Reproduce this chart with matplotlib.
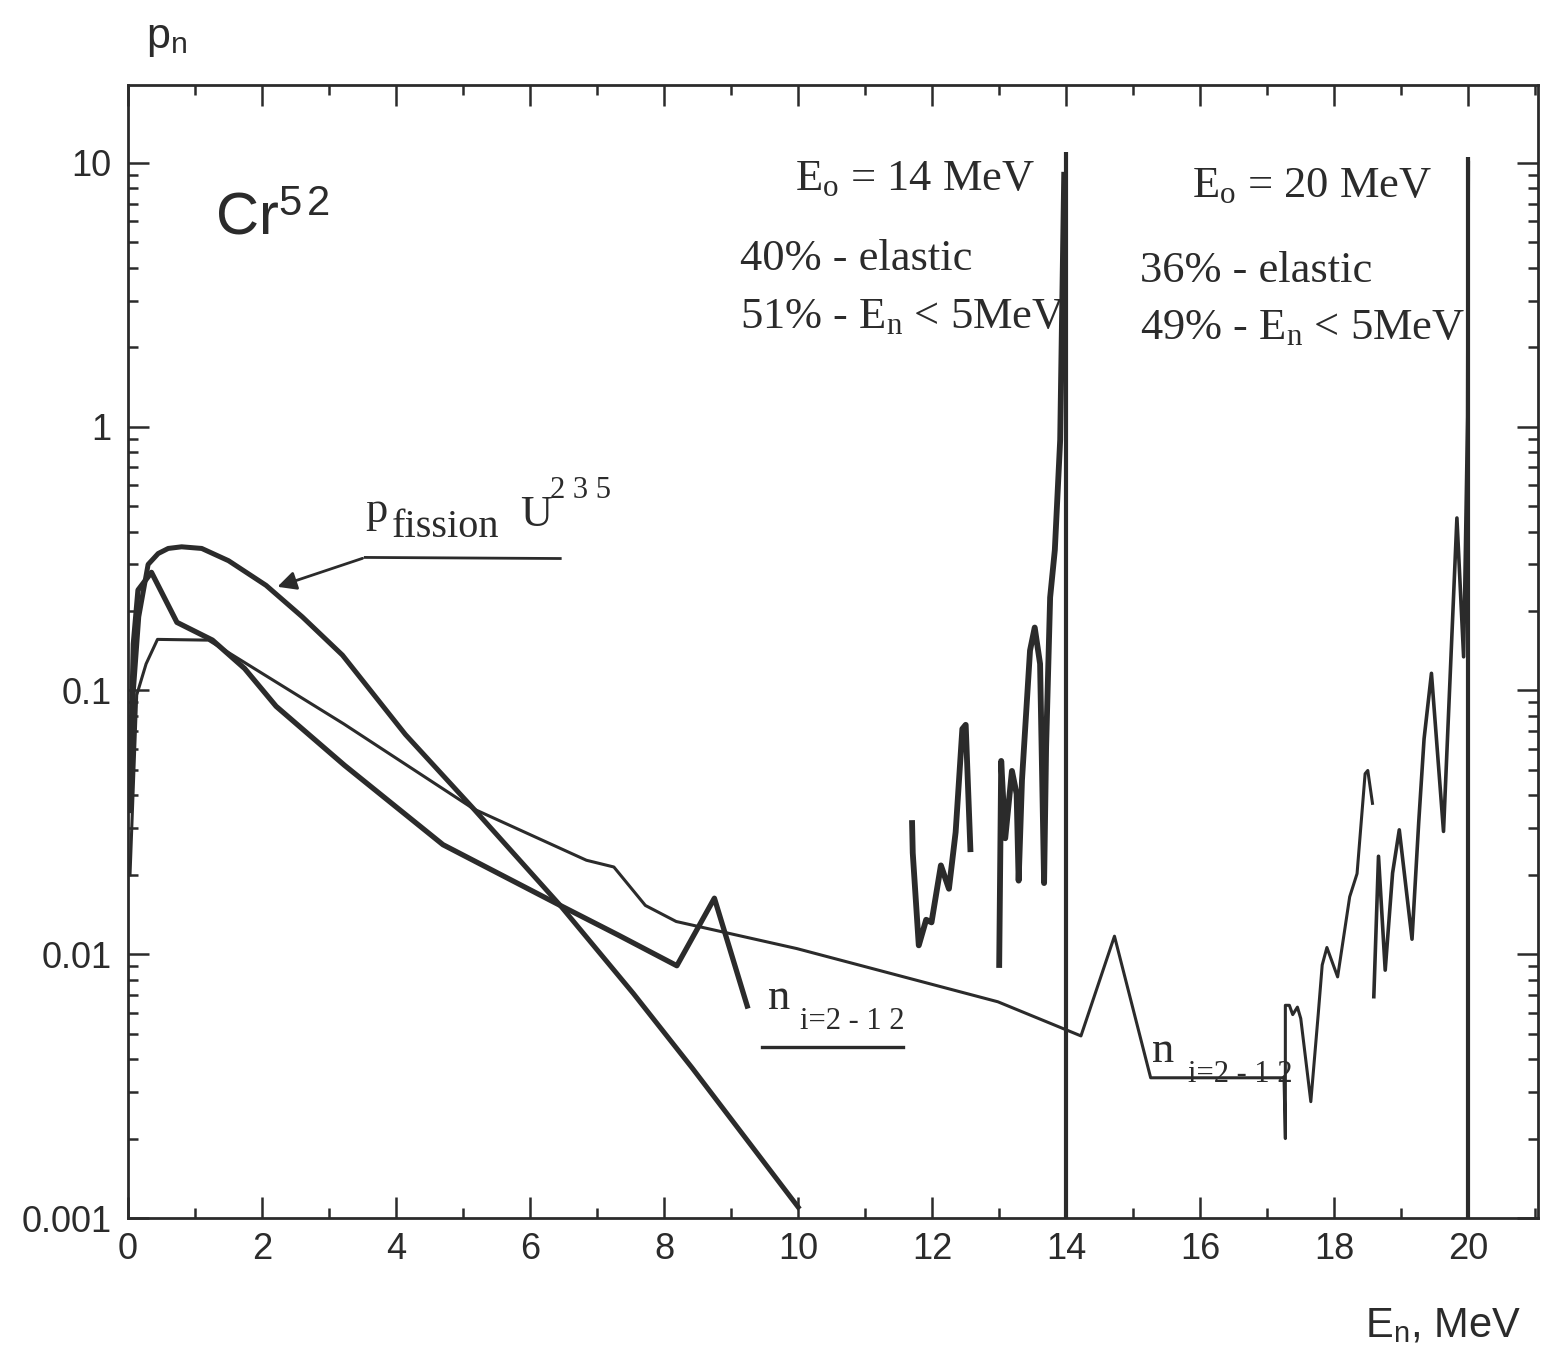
import numpy as np
import matplotlib
matplotlib.use("Agg")
import matplotlib.pyplot as plt
from matplotlib.ticker import MultipleLocator, LogLocator, NullFormatter

# 数据: 能量 E (MeV) 与 p_n, 从扫描图读出
# U235 裂变谱
fis_e = [0.03, 0.08, 0.16, 0.30, 0.45, 0.60, 0.80, 1.10, 1.50, 2.06, 2.60, 3.20,
         4.14, 5.16, 6.45, 7.54, 8.42, 10.0]
fis_p = [0.035, 0.10, 0.19, 0.30, 0.33, 0.345, 0.35, 0.345, 0.31, 0.25, 0.19, 0.136,
         0.068, 0.0355, 0.0153, 0.0071, 0.0037, 0.0011]

# E0 = 14 MeV, n i=2-12 (粗线)
n14_e = [0.03, 0.08, 0.15, 0.35, 0.73, 1.26, 1.74, 2.21, 3.23, 4.70, 6.45, 7.32, 8.19, 8.75, 9.24]
n14_p = [0.04, 0.15, 0.24, 0.28, 0.181, 0.155, 0.121, 0.087, 0.052, 0.026, 0.0153, 0.0118,
         0.00904, 0.0163, 0.00636]

# E0 = 14 MeV, 高能部分
s14a_e = [11.70, 11.71, 11.80, 11.91, 11.99, 12.13, 12.25, 12.35, 12.45, 12.50, 12.57]
s14a_p = [0.0314, 0.0242, 0.0108, 0.0135, 0.0132, 0.0217, 0.0177, 0.029, 0.0714, 0.074, 0.025]
s14b_e = [13.00, 13.03, 13.09, 13.19, 13.26, 13.29, 13.34, 13.46, 13.53, 13.61, 13.67,
          13.70, 13.76, 13.83, 13.91, 13.97]
s14b_p = [0.0091, 0.054, 0.0275, 0.0495, 0.0405, 0.019, 0.0457, 0.1416, 0.173, 0.126, 0.0186,
          0.061, 0.225, 0.34, 0.89, 9.0]

# E0 = 20 MeV (细线)
n20_e = [0.03, 0.13, 0.27, 0.44, 1.20, 3.22, 5.16, 6.84, 7.25, 7.72, 8.18, 9.98, 12.98,
         14.22, 14.72, 15.26, 17.25, 17.27, 17.27,
         17.33, 17.38, 17.45, 17.50, 17.65, 17.76, 17.82, 17.89, 18.05, 18.23, 18.34,
         18.46, 18.50, 18.57]
n20_p = [0.02, 0.096, 0.126, 0.156, 0.155, 0.0746, 0.0355, 0.0227, 0.0214, 0.0153, 0.0133,
         0.0105, 0.0066, 0.0049, 0.0117, 0.0034, 0.0034, 0.0020, 0.0064,
         0.0064, 0.0059, 0.0063, 0.0057, 0.00276, 0.0059, 0.0091, 0.0106, 0.0082, 0.0165,
         0.0202, 0.0483, 0.0497, 0.0373]
s20_e = [18.59, 18.66, 18.76, 18.87, 18.97, 19.16, 19.26, 19.34, 19.45, 19.63, 19.83,
         19.93, 19.99, 20.0]
s20_p = [0.0069, 0.0235, 0.0087, 0.0203, 0.0296, 0.0114, 0.0316, 0.0655, 0.116, 0.0292,
         0.45, 0.134, 1.09, 10.0]

# 弹性散射峰
elastic_e = [14.0, 20.0]
elastic_top = [11.0, 10.5]

x_ticks = [0, 2, 4, 6, 8, 10, 12, 14, 16, 18, 20]
y_ticks = [0.001, 0.01, 0.1, 1, 10]
y_ticklabels = ["0.001", "0.01", "0.1", "1", "10"]

plt.rcParams["font.family"] = ["Liberation Sans", "DejaVu Sans"]
plt.rcParams["mathtext.fontset"] = "custom"
plt.rcParams["mathtext.rm"] = "Liberation Serif"
plt.rcParams["mathtext.it"] = "Liberation Serif:italic"
plt.rcParams["mathtext.sf"] = "Liberation Sans"

ink = "#2b2b2b"
serif = ["Liberation Serif", "DejaVu Serif"]

fig = plt.figure(figsize=(15.44, 13.54), dpi=100)
ax = fig.add_axes([128 / 1544, 1 - 1218 / 1354, (1538 - 128) / 1544, (1218 - 85) / 1354])

ax.plot(fis_e, fis_p, color=ink, lw=3.6, solid_joinstyle="round")
ax.plot(n14_e, n14_p, color=ink, lw=3.8, solid_joinstyle="round")
ax.plot(s14a_e, s14a_p, color=ink, lw=4.2, solid_joinstyle="round")
ax.plot(s14b_e, s14b_p, color=ink, lw=4.2, solid_joinstyle="round")
ax.plot(n20_e, n20_p, color=ink, lw=2.2, solid_joinstyle="round")
ax.plot(s20_e, s20_p, color=ink, lw=2.6, solid_joinstyle="round")
ax.vlines(elastic_e, 0.001, elastic_top, color=ink, lw=3.0)

ax.set_yscale("log")
ax.set_xlim(0, 21.04)
ax.set_ylim(0.001, 19.7)

ax.set_xticks(x_ticks, [str(t) for t in x_ticks])
ax.xaxis.set_minor_locator(MultipleLocator(1))
ax.set_yticks(y_ticks, y_ticklabels)
ax.yaxis.set_minor_locator(LogLocator(base=10, subs=range(2, 10)))
ax.yaxis.set_minor_formatter(NullFormatter())

ax.tick_params(which="both", direction="in", top=True, right=True, colors=ink,
               labelsize=26, width=1.8)
ax.tick_params(which="major", length=15)
ax.tick_params(which="minor", length=7)
ax.tick_params(axis="x", pad=10)
ax.tick_params(axis="y", pad=12)
for s in ax.spines.values():
    s.set_linewidth(2.0)
    s.set_color(ink)

# 文字标注
ax.text(1.30, 5.33, r"Cr$^\mathsf{5\,2}$", fontsize=43, color=ink)
ax.text(9.96, 7.9, r"E$_\mathrm{o}$ = 14 MeV", fontsize=32, family=serif, color=ink)
ax.text(9.13, 3.93, "40% - elastic", fontsize=32, family=serif, color=ink)
ax.text(9.13, 2.37, r"51% - E$_\mathrm{n}$ < 5MeV", fontsize=32, family=serif, color=ink)
ax.text(15.88, 7.43, r"E$_\mathrm{o}$ = 20 MeV", fontsize=32, family=serif, color=ink)
ax.text(15.10, 3.54, "36% - elastic", fontsize=32, family=serif, color=ink)
ax.text(15.10, 2.14, r"49% - E$_\mathrm{n}$ < 5MeV", fontsize=32, family=serif, color=ink)

ax.text(3.54, 0.436, "p", fontsize=32, family=serif, color=ink)
ax.text(3.94, 0.38, "fission", fontsize=29, family=serif, color=ink)
ax.text(5.85, 0.418, "U", fontsize=32, family=serif, color=ink)
ax.text(6.30, 0.538, "2 3 5", fontsize=22, family=serif, color=ink)
ax.plot([3.54, 6.45], [0.319, 0.316], color=ink, lw=2.0)
ax.annotate("", xy=(2.19, 0.245), xytext=(3.54, 0.319),
            arrowprops=dict(arrowstyle="-|>", color=ink, lw=2.0, mutation_scale=28))

ax.text(9.55, 0.0062, "n", fontsize=32, family=serif, color=ink)
ax.text(10.03, 0.0052, "i=2 - 1 2", fontsize=22, family=serif, color=ink)
ax.plot([9.46, 11.57], [0.00445, 0.00445], color=ink, lw=2.4)
ax.text(15.28, 0.00389, "n", fontsize=32, family=serif, color=ink)
ax.text(15.82, 0.00327, "i=2 - 1 2", fontsize=22, family=serif, color=ink)

fig.text(146 / 1544, 1 - 48 / 1354, r"p$_\mathsf{n}$", fontsize=31, color=ink)
fig.text(1365 / 1544, 1 - 1337 / 1354, r"E$_\mathsf{n}$, MeV", fontsize=30, color=ink)

fig.savefig("out.png", dpi=100, facecolor="white")
